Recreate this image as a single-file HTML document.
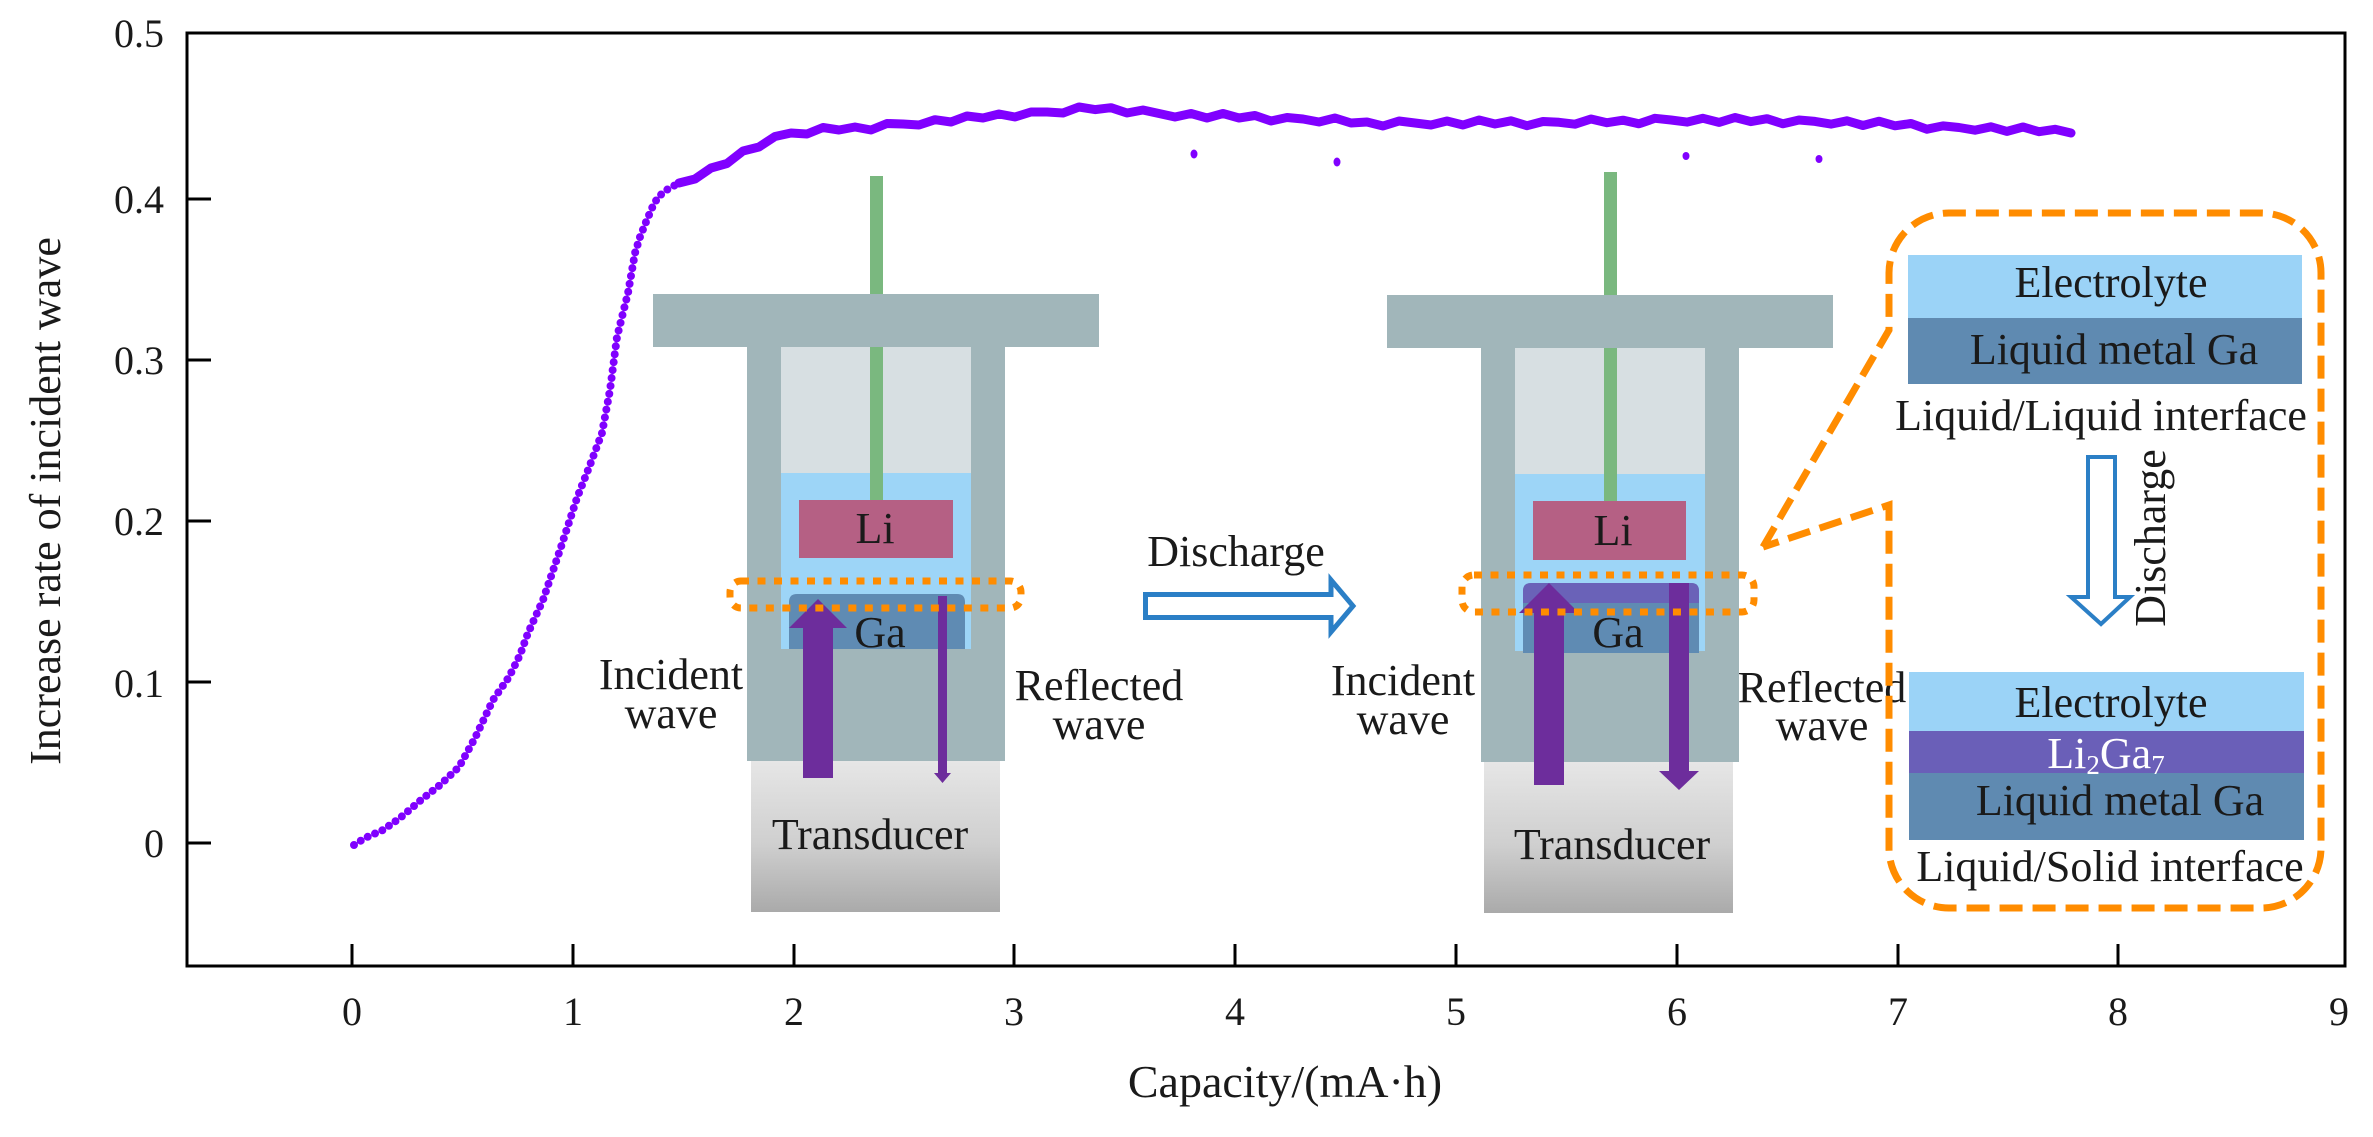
<!DOCTYPE html>
<html>
<head>
<meta charset="utf-8">
<style>
  html,body{margin:0;padding:0;background:#fff;}
  svg{display:block;}
  text{font-family:"Liberation Serif","Times New Roman",serif;fill:#1a1a1a;}
</style>
</head>
<body>
<svg width="2373" height="1137" viewBox="0 0 2373 1137" xmlns="http://www.w3.org/2000/svg">
  <defs>
    <linearGradient id="tg" x1="0" y1="0" x2="0" y2="1">
      <stop offset="0" stop-color="#e6e6e6"/>
      <stop offset="0.55" stop-color="#cfcfcf"/>
      <stop offset="1" stop-color="#aaaaaa"/>
    </linearGradient>
  </defs>
  <rect x="0" y="0" width="2373" height="1137" fill="#fff"/>

  <!-- ===== Cell 1 ===== -->
  <rect x="870" y="176" width="13" height="330" fill="#7ab87f"/>
  <rect x="747" y="340" width="258" height="421" fill="#a1b6ba"/>
  <rect x="781" y="347" width="190" height="126" fill="#d7dfe2"/>
  <rect x="781" y="473" width="190" height="176" fill="#9dd5f7"/>
  <rect x="870" y="347" width="13" height="153" fill="#7ab87f"/>
  <rect x="653" y="294" width="446" height="53" fill="#a1b6ba"/>
  <rect x="799" y="500" width="154" height="58" fill="#b56084"/>
  <text x="875" y="543" font-size="44" text-anchor="middle">Li</text>
  <path d="M789,649 L789,602 Q789,594 797,594 L957,594 Q965,594 965,602 L965,649 Z" fill="#5f8bb3"/>
  <text x="880" y="647" font-size="44" text-anchor="middle">Ga</text>
  <rect x="751" y="761" width="249" height="151" fill="url(#tg)"/>
  <text x="870" y="849" font-size="44" text-anchor="middle">Transducer</text>
  <!-- arrows -->
  <polygon points="803,778 833,778 833,628 847,628 818,599 789,628 803,628" fill="#6d2d9c"/>
  <rect x="938" y="596" width="9" height="178" fill="#6d2d9c"/>
  <polygon points="934,773 951,773 942.5,783" fill="#6d2d9c"/>
  <rect x="730" y="581" width="291" height="27" rx="11" fill="none" stroke="#ff8c00" stroke-width="7" stroke-dasharray="8 8.5"/>
  <text x="671" y="689" font-size="44" text-anchor="middle">Incident</text>
  <text x="671" y="728" font-size="44" text-anchor="middle">wave</text>
  <text x="1099" y="700" font-size="44" text-anchor="middle">Reflected</text>
  <text x="1099" y="739" font-size="44" text-anchor="middle">wave</text>

  <!-- ===== Discharge arrow (horizontal) ===== -->
  <text x="1236" y="566" font-size="44" text-anchor="middle">Discharge</text>
  <polygon points="1145.5,594.5 1331,594.5 1331,580 1353,606 1331,632 1331,617.5 1145.5,617.5" fill="#fff" stroke="#2b7fc6" stroke-width="5"/>

  <!-- ===== Cell 2 ===== -->
  <rect x="1604" y="172" width="13" height="335" fill="#7ab87f"/>
  <rect x="1481" y="340" width="258" height="422" fill="#a1b6ba"/>
  <rect x="1515" y="348" width="190" height="126" fill="#d7dfe2"/>
  <rect x="1515" y="474" width="190" height="177" fill="#9dd5f7"/>
  <rect x="1604" y="348" width="13" height="153" fill="#7ab87f"/>
  <rect x="1387" y="295" width="446" height="53" fill="#a1b6ba"/>
  <rect x="1533" y="501" width="153" height="59" fill="#b56084"/>
  <text x="1613" y="545" font-size="44" text-anchor="middle">Li</text>
  <path d="M1523,653 L1523,591 Q1523,583 1531,583 L1691,583 Q1699,583 1699,591 L1699,653 Z" fill="#5f8bb3"/>
  <path d="M1523,603 L1523,591 Q1523,583 1531,583 L1691,583 Q1699,583 1699,591 L1699,603 Z" fill="#6a62b8"/>
  <text x="1618" y="647" font-size="44" text-anchor="middle">Ga</text>
  <rect x="1484" y="762" width="249" height="151" fill="url(#tg)"/>
  <text x="1612" y="859" font-size="44" text-anchor="middle">Transducer</text>
  <polygon points="1534,785 1564,785 1564,613 1579,613 1549,583 1519,613 1534,613" fill="#6d2d9c"/>
  <rect x="1669" y="583" width="20" height="189" fill="#6d2d9c"/>
  <polygon points="1659,771 1699,771 1679,790" fill="#6d2d9c"/>
  <rect x="1462" y="575" width="292" height="37" rx="12" fill="none" stroke="#ff8c00" stroke-width="7" stroke-dasharray="8 8.5"/>
  <text x="1403" y="695" font-size="44" text-anchor="middle">Incident</text>
  <text x="1403" y="734" font-size="44" text-anchor="middle">wave</text>
  <text x="1822" y="702" font-size="44" text-anchor="middle">Reflected</text>
  <text x="1822" y="740" font-size="44" text-anchor="middle">wave</text>

  <!-- ===== Right panel ===== -->
  <path d="M1763,547 L1889,330 L1889,273 A60,60 0 0 1 1949,213 L2261,213 A60,60 0 0 1 2321,273 L2321,848 A60,60 0 0 1 2261,908 L1949,908 A60,60 0 0 1 1889,848 L1889,505 L1763,547" fill="none" stroke="#ff8c00" stroke-width="7" stroke-dasharray="23 10"/>
  <rect x="1908" y="255" width="394" height="63" fill="#9bd3f7"/>
  <rect x="1908" y="318" width="394" height="66" fill="#5f8ab1"/>
  <text x="2111" y="297" font-size="44" text-anchor="middle">Electrolyte</text>
  <text x="2114" y="364" font-size="44" text-anchor="middle">Liquid metal Ga</text>
  <text x="2101" y="430" font-size="44" text-anchor="middle">Liquid/Liquid interface</text>
  <polygon points="2088,457 2115,457 2115,597 2130,597 2101,624 2071,597 2088,597" fill="#fff" stroke="#2b7fc6" stroke-width="4"/>
  <text transform="translate(2165,538) rotate(-90)" font-size="44" text-anchor="middle">Discharge</text>
  <rect x="1909" y="672" width="395" height="59" fill="#9bd3f7"/>
  <rect x="1909" y="731" width="395" height="42" fill="#6a5fb8"/>
  <rect x="1909" y="773" width="395" height="67" fill="#5f8ab1"/>
  <text x="2111" y="717" font-size="44" text-anchor="middle">Electrolyte</text>
  <text x="2106" y="768" font-size="44" text-anchor="middle" style="fill:#ffffff">Li<tspan font-size="27" dy="6">2</tspan><tspan dy="-6">Ga</tspan><tspan font-size="27" dy="6">7</tspan></text>
  <text x="2120" y="815" font-size="44" text-anchor="middle">Liquid metal Ga</text>
  <text x="2110" y="881" font-size="44" text-anchor="middle">Liquid/Solid interface</text>

  <!-- ===== Data ===== -->
  <polyline fill="none" stroke="#8000ff" stroke-width="8" stroke-linecap="round" stroke-linejoin="round" stroke-dasharray="0 8"
    points="354,845 365,838 383,830 400,818 421,800 440,785 459,767 475,738 493,700 509,677 520,655 528,633 543,600 560,550 577,498 590,465 602,433 610,390 617,337 623,313 628,293 635,253 640,237 646,222 652,208 658,197 668,189 679,183"/>
  <polyline fill="none" stroke="#8000ff" stroke-width="9" stroke-linecap="round" stroke-linejoin="round"
    points="679,183 695,179 711,168 727,163.5 743,151 759,147 775,136.5 791,133 807,134 823,127.5 839,130 855,127 871,130 887,123.5 903,124 919,125 935,119.7 951,122 967,116 983,118 999,114 1015,117 1031,112 1047,112 1063,113 1079,107 1095,109.6 1111,107.7 1127,113 1143,110 1159,113.5 1175,117 1191,113.5 1207,118 1223,113.5 1239,118 1255,115.5 1271,121 1287,117.5 1303,119 1319,122 1335,118 1351,123 1367,122 1383,126 1399,121 1415,123 1431,125 1447,121 1463,125 1479,120 1495,124 1511,120.8 1527,125.7 1543,121.5 1559,122.3 1575,124.2 1591,119 1607,122.7 1623,120.2 1639,123.8 1655,118.3 1671,120 1687,122.1 1703,118.3 1719,122.4 1735,117.5 1751,121.6 1767,118.7 1783,123.8 1799,120 1815,121.4 1831,124.1 1847,120.8 1863,125.5 1879,121.2 1895,125.8 1911,123.5 1927,129.2 1943,125.9 1959,127.5 1975,130.2 1991,126.8 2007,131.4 2023,127 2039,131.7 2055,129.3 2071,133"/>
  <ellipse cx="1194" cy="154" rx="3.5" ry="4.5" fill="#8000ff"/>
  <ellipse cx="1337" cy="162" rx="3.5" ry="4.5" fill="#8000ff"/>
  <ellipse cx="1686" cy="156" rx="3.5" ry="4" fill="#8000ff"/>
  <ellipse cx="1819" cy="159" rx="3.5" ry="4" fill="#8000ff"/>

  <!-- ===== Axes ===== -->
  <rect x="187" y="33" width="2158" height="933" fill="none" stroke="#000" stroke-width="3"/>
  <g stroke="#000" stroke-width="3">
    <line x1="187" y1="199" x2="211" y2="199"/>
    <line x1="187" y1="360" x2="211" y2="360"/>
    <line x1="187" y1="521" x2="211" y2="521"/>
    <line x1="187" y1="682" x2="211" y2="682"/>
    <line x1="187" y1="843" x2="211" y2="843"/>
    <line x1="352" y1="944" x2="352" y2="966"/>
    <line x1="573" y1="944" x2="573" y2="966"/>
    <line x1="794" y1="944" x2="794" y2="966"/>
    <line x1="1014" y1="944" x2="1014" y2="966"/>
    <line x1="1235" y1="944" x2="1235" y2="966"/>
    <line x1="1456" y1="944" x2="1456" y2="966"/>
    <line x1="1677" y1="944" x2="1677" y2="966"/>
    <line x1="1898" y1="944" x2="1898" y2="966"/>
    <line x1="2118" y1="944" x2="2118" y2="966"/>
  </g>
  <g font-size="40" text-anchor="end">
    <text x="164" y="47">0.5</text>
    <text x="164" y="213">0.4</text>
    <text x="164" y="374">0.3</text>
    <text x="164" y="535">0.2</text>
    <text x="164" y="697">0.1</text>
    <text x="164" y="857">0</text>
  </g>
  <g font-size="40" text-anchor="middle">
    <text x="352" y="1025">0</text>
    <text x="573" y="1025">1</text>
    <text x="794" y="1025">2</text>
    <text x="1014" y="1025">3</text>
    <text x="1235" y="1025">4</text>
    <text x="1456" y="1025">5</text>
    <text x="1677" y="1025">6</text>
    <text x="1898" y="1025">7</text>
    <text x="2118" y="1025">8</text>
    <text x="2339" y="1025">9</text>
  </g>
  <text transform="translate(60,501) rotate(-90)" font-size="44" text-anchor="middle">Increase rate of incident wave</text>
  <text x="1285" y="1097" font-size="46" text-anchor="middle">Capacity/(mA·h)</text>
</svg>
</body>
</html>
